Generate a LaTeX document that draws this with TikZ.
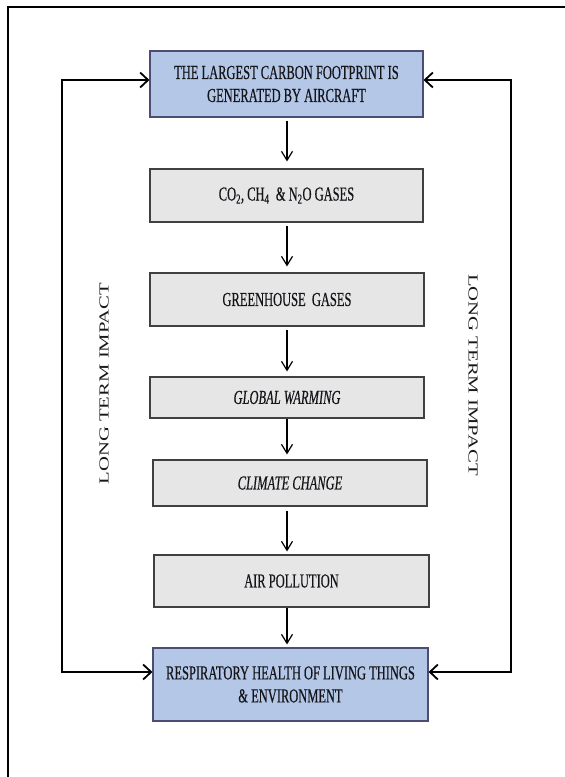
\documentclass[tikz,border=0pt]{standalone}
\usepackage{fontspec}
\setmainfont{Liberation Serif}
\newfontfamily\condfont[FakeStretch=0.63,FakeBold=0.4]{Liberation Serif}
\newfontfamily\widefont[FakeStretch=1.5]{Liberation Serif}
\usetikzlibrary{arrows.meta,calc}
\definecolor{boxblue}{RGB}{180,199,231}
\definecolor{boxgrey}{RGB}{230,230,230}
\definecolor{txt}{RGB}{20,20,25}
\tikzset{
  flowbox/.style={rectangle, draw=black!75, line width=1.1pt, inner sep=0pt,
    align=center, text=txt, font=\condfont\fontsize{19.8}{23}\selectfont},
  bluebox/.style={flowbox, fill=boxblue, draw=black!60!blue!40!gray},
  greybox/.style={flowbox, fill=boxgrey},
  flowarrow/.style={line width=1.2pt, -{Straight Barb[length=9pt,width=11pt,line width=1.2pt]}},
  fbarrow/.style={line width=2pt, {Straight Barb[length=8pt,width=15pt,line width=1.8pt]}-{Straight Barb[length=8pt,width=15pt,line width=1.8pt]}},
  sidelabel/.style={inner sep=0pt, text=black!90, font=\widefont\fontsize{13.8}{16}\selectfont}
}
\begin{document}
\begin{tikzpicture}[x=1pt,y=-1pt]
\useasboundingbox (0,0) rectangle (565,777);
% frame
\draw[line width=1.6pt] (8,777) -- (8,7) -- (566,7);
% boxes
\node[bluebox, minimum width=273pt, minimum height=66pt] (b1) at (286.5,84)
  {THE LARGEST CARBON FOOTPRINT IS\\GENERATED BY AIRCRAFT};
\node[greybox, minimum width=273pt, minimum height=53pt] (b2) at (286.5,195.5)
  {CO\textsubscript{2}, CH\textsubscript{4} \,\& N\textsubscript{2}O GASES};
\node[greybox, minimum width=274pt, minimum height=53pt] (b3) at (287,299.5)
  {GREENHOUSE\ \ GASES};
\node[greybox, minimum width=274pt, minimum height=41pt] (b4) at (287,397.5)
  {\itshape GLOBAL WARMING};
\node[greybox, minimum width=274pt, minimum height=46pt] (b5) at (290,483)
  {\itshape CLIMATE CHANGE};
\node[greybox, minimum width=275pt, minimum height=52pt] (b6) at (291.5,581)
  {AIR POLLUTION};
\node[bluebox, minimum width=275pt, minimum height=73pt] (b7) at (290.5,684.5)
  {RESPIRATORY HEALTH OF LIVING THINGS\\\& ENVIRONMENT};
% vertical arrows
\coordinate (ax) at (287,0);
\draw[flowarrow] ([yshift=-3pt]b1.south -| ax) -- ([yshift=7pt]b2.north -| ax);
\draw[flowarrow] ([yshift=-3pt]b2.south -| ax) -- ([yshift=6pt]b3.north -| ax);
\draw[flowarrow] ([yshift=-3pt]b3.south -| ax) -- ([yshift=5pt]b4.north -| ax);
\draw[flowarrow] (b4.south -| ax) -- ([yshift=5pt]b5.north -| ax);
\draw[flowarrow] ([yshift=-4pt]b5.south -| ax) -- ([yshift=3pt]b6.north -| ax);
\draw[flowarrow] (b6.south -| ax) -- ([yshift=3pt]b7.north -| ax);
% feedback loops
\coordinate (lt) at (62,80);
\coordinate (lb) at (62,672);
\coordinate (rt) at (511,80);
\coordinate (rb) at (511,672);
\draw[fbarrow] (b1.west |- lt) -- (lt) -- (lb) -- (b7.west |- lb);
\draw[fbarrow] (b1.east |- rt) -- (rt) -- (rb) -- (b7.east |- rb);
% side labels
\node[sidelabel, rotate=90] (ll) at (104,383.5) {LONG TERM IMPACT};
\node[sidelabel, rotate=-90] (rl) at (473,375) {LONG TERM IMPACT};
\end{tikzpicture}
\end{document}
